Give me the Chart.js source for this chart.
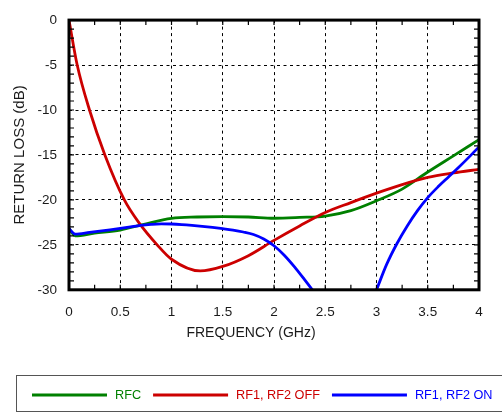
<!DOCTYPE html>
<html>
<head>
<meta charset="utf-8">
<script src="https://cdn.jsdelivr.net/npm/chart.js@4"></script>
<style>
    html, body { margin: 0; padding: 0; background: #fff; }
    #returnLossChart { display: block; }
</style>
</head>
<body>
<canvas id="returnLossChart" width="502" height="414"></canvas>
<script>
// Return loss vs frequency
const rfcFreq = [0, 0.06, 0.25, 0.5, 0.72, 1.0, 1.25, 1.5, 1.75, 2.0, 2.25, 2.5, 2.75, 3.0, 3.25, 3.5, 3.75, 4.0];
const rfcLoss = [-23.2, -24.0, -23.7, -23.35, -22.75, -22.05, -21.9, -21.85, -21.9, -22.04, -21.95, -21.8, -21.2, -20.1, -18.8, -16.9, -15.1, -13.3];

const offFreq = [0, 0.08, 0.2, 0.35, 0.54, 0.68, 0.86, 1.0, 1.28, 1.5, 1.75, 2.0, 2.25, 2.5, 2.75, 3.0, 3.25, 3.5, 3.75, 4.0];
const offLoss = [0, -5, -10, -15, -20, -22.5, -25, -26.6, -27.9, -27.4, -26.2, -24.5, -22.9, -21.4, -20.3, -19.25, -18.3, -17.5, -17.0, -16.6];

// RF1, RF2 ON dips below the -30 dB floor between about 2.4 and 3 GHz
const onFreq = [0, 0.06, 0.2, 0.3, 0.4, 0.5, 0.6, 0.7, 0.8, 0.9, 1.0, 1.1, 1.2, 1.3, 1.4, 1.5, 1.6, 1.7, 1.8, 1.9, 2.0,
    2.1, 2.2, 2.3, 2.4, 2.5, 2.6, 2.7, 2.8, 2.9, 3.0, 3.1, 3.2, 3.3, 3.4, 3.5, 3.6, 3.7, 3.8, 3.9, 4.0];
const onLoss = [-23.2, -23.8, -23.62, -23.48, -23.33, -23.17, -23.0, -22.83, -22.72, -22.66, -22.68, -22.74, -22.83, -22.94, -23.06, -23.2, -23.36, -23.57, -23.85, -24.35, -25.1,
    -26.15, -27.45, -28.9, -30.4, -32.0, -33.4, -34.3, -34.3, -32.8, -30.0, -27.15, -24.85, -22.9, -21.2, -19.75, -18.55, -17.47, -16.4, -15.27, -14.1];

const seriesLabels = ['RFC', 'RF1, RF2 OFF', 'RF1, RF2 ON'];
const seriesColors = ['#008000', '#cc0000', '#0000ff'];

const xTicks = { min: 0, max: 4, step: 0.5, minor: 0.25 };
const yTicks = { min: -30, max: 0, step: 5, minor: 1 };

const fontFamily = "'Liberation Sans', Arial, sans-serif";
const textColor = '#1a1a1a';

function toPoints(xs, ys) {
    return xs.map((x, i) => ({ x: x, y: ys[i] }));
}

// Thick frame plus the small inward minor ticks on all four sides
const frameAndMinorTicks = {
    id: 'frameAndMinorTicks',
    afterDatasetsDraw(chart) {
        const { ctx, chartArea: a, scales: { x, y } } = chart;
        ctx.save();
        ctx.strokeStyle = '#000';
        ctx.lineWidth = 1.2;
        ctx.beginPath();
        for (let v = xTicks.min + xTicks.minor; v < xTicks.max; v += xTicks.minor) {
            const px = x.getPixelForValue(v);
            ctx.moveTo(px, a.bottom); ctx.lineTo(px, a.bottom - 5);
            ctx.moveTo(px, a.top); ctx.lineTo(px, a.top + 5);
        }
        for (let v = yTicks.min + yTicks.minor; v < yTicks.max; v += yTicks.minor) {
            const py = y.getPixelForValue(v);
            ctx.moveTo(a.left, py); ctx.lineTo(a.left + 5, py);
            ctx.moveTo(a.right, py); ctx.lineTo(a.right - 5, py);
        }
        ctx.stroke();
        ctx.lineWidth = 3;
        ctx.strokeRect(a.left, a.top, a.right - a.left, a.bottom - a.top);
        ctx.restore();
    }
};

// Boxed legend under the chart, line samples with coloured labels
const boxedLegend = {
    id: 'boxedLegend',
    afterDraw(chart) {
        const ctx = chart.ctx;
        const midY = 395;
        ctx.save();
        ctx.strokeStyle = '#555';
        ctx.lineWidth = 1;
        ctx.strokeRect(16.5, 375.5, 500, 36);
        ctx.font = '12.7px ' + fontFamily;
        ctx.textBaseline = 'middle';
        ctx.textAlign = 'left';
        let x = 32;
        chart.data.datasets.forEach(ds => {
            ctx.strokeStyle = ds.borderColor;
            ctx.lineWidth = 3;
            ctx.beginPath();
            ctx.moveTo(x, midY);
            ctx.lineTo(x + 75, midY);
            ctx.stroke();
            ctx.fillStyle = ds.borderColor;
            ctx.fillText(ds.label, x + 83, midY);
            x += 83 + ctx.measureText(ds.label).width + 12;
        });
        ctx.restore();
    }
};

const chartCtx = document.getElementById('returnLossChart').getContext('2d');

new Chart(chartCtx, {
    type: 'line',
    data: {
        datasets: [
            {
                label: seriesLabels[0],
                data: toPoints(rfcFreq, rfcLoss),
                borderColor: seriesColors[0],
                order: 2
            },
            {
                label: seriesLabels[1],
                data: toPoints(offFreq, offLoss),
                borderColor: seriesColors[1],
                order: 1
            },
            {
                label: seriesLabels[2],
                data: toPoints(onFreq, onLoss),
                borderColor: seriesColors[2],
                order: 0
            }
        ]
    },
    options: {
        responsive: false,
        animation: false,
        devicePixelRatio: 1,
        events: [],
        layout: {
            padding: { left: 0, right: 0, top: 11, bottom: 68 }
        },
        elements: {
            line: {
                borderWidth: 2.8,
                fill: false,
                cubicInterpolationMode: 'monotone'
            },
            point: { radius: 0 }
        },
        plugins: {
            legend: { display: false },
            tooltip: { enabled: false },
            title: {
                display: true,
                text: 'FREQUENCY (GHz)',
                position: 'bottom',
                color: textColor,
                font: { size: 14, weight: 'normal', family: fontFamily },
                padding: { top: 7.4, bottom: 4 }
            }
        },
        scales: {
            x: {
                type: 'linear',
                min: xTicks.min,
                max: xTicks.max,
                afterFit: function(scale) {
                    scale.height = 28;
                    scale.paddingRight = 23;
                },
                ticks: {
                    stepSize: xTicks.step,
                    padding: 14,
                    color: textColor,
                    font: { size: 13.5, family: fontFamily },
                    callback: function(value) {
                        return String(value);
                    }
                },
                grid: {
                    color: '#000',
                    lineWidth: 1,
                    drawTicks: false
                },
                border: { display: false, dash: [3, 3.5] }
            },
            y: {
                min: yTicks.min,
                max: yTicks.max,
                afterFit: function(scale) {
                    scale.width = 69;
                },
                title: {
                    display: true,
                    text: 'RETURN LOSS (dB)',
                    color: textColor,
                    font: { size: 15, family: fontFamily },
                    padding: { top: 11, bottom: 0 }
                },
                ticks: {
                    stepSize: yTicks.step,
                    padding: 12,
                    color: textColor,
                    font: { size: 13.5, family: fontFamily }
                },
                grid: {
                    color: '#000',
                    lineWidth: 1,
                    drawTicks: false
                },
                border: { display: false, dash: [3, 3.5] }
            }
        }
    },
    plugins: [frameAndMinorTicks, boxedLegend]
});
</script>
</body>
</html>
